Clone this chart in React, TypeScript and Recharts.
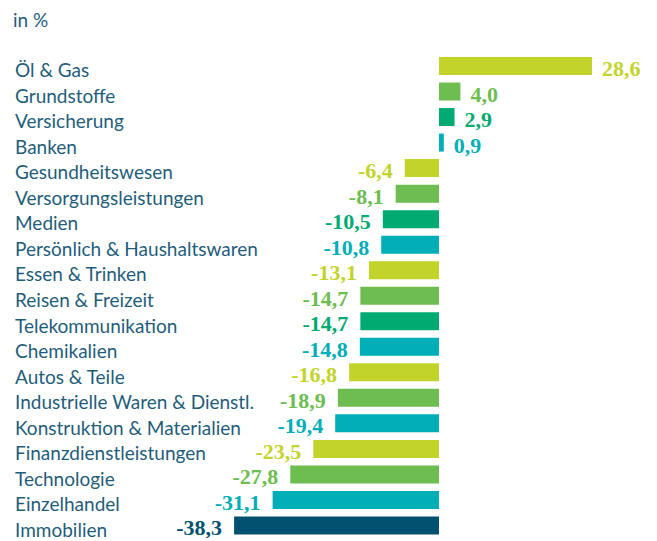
import React from "react";
import { BarChart, Bar, XAxis, YAxis, Cell, LabelList } from "recharts";

const categories = [
  "Öl & Gas",
  "Grundstoffe",
  "Versicherung",
  "Banken",
  "Gesundheitswesen",
  "Versorgungsleistungen",
  "Medien",
  "Persönlich & Haushaltswaren",
  "Essen & Trinken",
  "Reisen & Freizeit",
  "Telekommunikation",
  "Chemikalien",
  "Autos & Teile",
  "Industrielle Waren & Dienstl.",
  "Konstruktion & Materialien",
  "Finanzdienstleistungen",
  "Technologie",
  "Einzelhandel",
  "Immobilien",
];

const values = [28.6, 4.0, 2.9, 0.9, -6.4, -8.1, -10.5, -10.8, -13.1, -14.7, -14.7, -14.8, -16.8, -18.9, -19.4, -23.5, -27.8, -31.1, -38.3];

const LIME = "#c2d42b";
const GREEN = "#6dbd50";
const TEALGREEN = "#00aa70";
const CYAN = "#00aeb8";
const DARK = "#00516f";

const colors = [
  LIME, GREEN, TEALGREEN, CYAN,
  LIME, GREEN, TEALGREEN, CYAN,
  LIME, GREEN, TEALGREEN, CYAN,
  LIME, GREEN, CYAN, LIME, GREEN, CYAN, DARK,
];

const data = categories.map((name, i) => ({ name, value: values[i], color: colors[i] }));

const TEXT = "#1f5d7b";

const fmt = (v: number) => v.toFixed(1).replace(".", ",");

const CategoryTick = (props: any) => {
  const { y, payload } = props;
  return (
    <text x={15} y={y + 11.5} fill={TEXT} fontFamily="Lato" fontSize={19} textAnchor="start">
      {payload.value}
    </text>
  );
};

const ValueLabel = (props: any) => {
  const { x, y, width, height, value, index } = props;
  const left = Math.min(x, x + width);
  const right = Math.max(x, x + width);
  const cy = y + height / 2;
  const pos = value >= 0;
  return (
    <text
      x={pos ? right + 10 : left - 12}
      y={cy + 10}
      textAnchor={pos ? "start" : "end"}
      fill={colors[index]}
      fontFamily="Liberation Serif"
      fontWeight="bold"
      fontSize={22}
    >
      {fmt(value)}
    </text>
  );
};

export default function App() {
  return (
    <div style={{ position: "absolute", left: 0, top: 0, width: 657, height: 541, background: "#fff" }}>
      <div
        style={{
          position: "absolute",
          left: 13,
          top: 9,
          fontFamily: "Lato",
          fontSize: 19,
          color: TEXT,
          lineHeight: "22px",
        }}
      >
        in %
      </div>
      <BarChart
        width={657}
        height={541}
        data={data}
        layout="vertical"
        margin={{ top: 53, right: 4, bottom: 3, left: 0 }}
        barSize={18}
      >
        <XAxis type="number" domain={[-40, 40]} hide />
        <YAxis
          type="category"
          dataKey="name"
          width={225}
          axisLine={false}
          tickLine={false}
          interval={0}
          tick={<CategoryTick />}
        />
        <Bar dataKey="value" isAnimationActive={false}>
          {data.map((d, i) => (
            <Cell key={i} fill={d.color} />
          ))}
          <LabelList dataKey="value" content={<ValueLabel />} />
        </Bar>
      </BarChart>
    </div>
  );
}
